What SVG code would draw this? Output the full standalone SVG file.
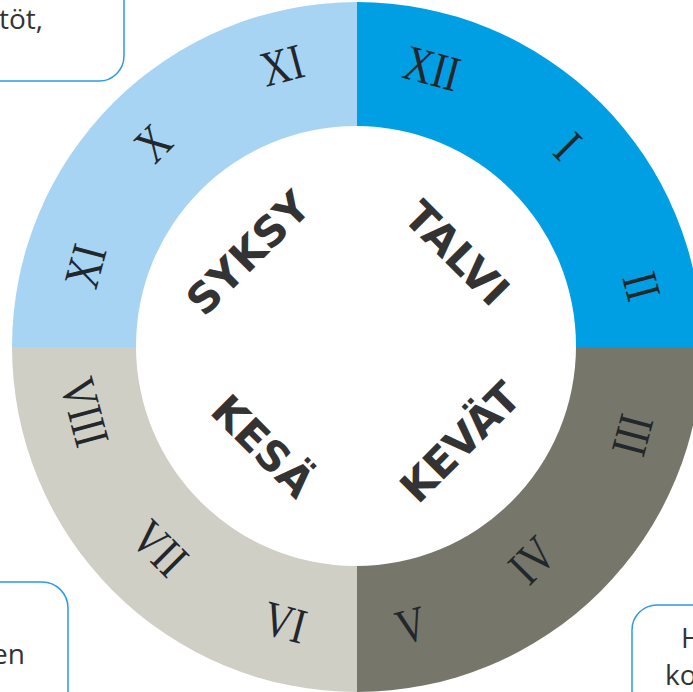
<svg xmlns="http://www.w3.org/2000/svg" width="693" height="692" viewBox="0 0 693 692">
  <style>
    .num { font-family: "Liberation Serif", "Times New Roman", serif; font-size: 50px; fill: #22272b; text-anchor: middle; }
    .season { font-family: "DejaVu Sans", Verdana, sans-serif; font-weight: bold; font-size: 42px; fill: #333333; text-anchor: middle; }
    .box { fill: #ffffff; stroke: #2b9be8; stroke-width: 1.5; }
    .boxtext { font-family: "Open Sans", "Liberation Sans", sans-serif; font-size: 28px; fill: #333333; }
  </style>
  <rect width="693" height="692" fill="#ffffff"/>
  <g id="wheel">
    <path d="M357,347 L357,2 A345,345 0 0 1 702,347 Z" fill="#009fe3"/>
    <path d="M357,347 L702,347 A345,345 0 0 1 357,692 Z" fill="#77766a"/>
    <path d="M357,347 L357,692 A345,345 0 0 1 12,347 Z" fill="#d0cfc6"/>
    <path d="M357,347 L12,347 A345,345 0 0 1 357,2 Z" fill="#a8d4f3"/>
    <circle cx="356" cy="346" r="220" fill="#ffffff"/>
  </g>
  <g id="months">
    <text class="num" transform="translate(432,68) rotate(15) scale(0.8,1)" dy="17">XII</text>
    <text class="num" transform="translate(568,146) rotate(45) scale(0.8,1)" dy="17">I</text>
    <text class="num" transform="translate(642,286) rotate(75) scale(0.8,1)" dy="17">II</text>
    <text class="num" transform="translate(632,435) rotate(-75) scale(0.8,1)" dy="17">III</text>
    <text class="num" transform="translate(532,560) rotate(-45) scale(0.8,1)" dy="17">IV</text>
    <text class="num" transform="translate(411,625) rotate(-15) scale(0.8,1)" dy="17">V</text>
    <text class="num" transform="translate(285,622) rotate(15) scale(0.8,1)" dy="17">VI</text>
    <text class="num" transform="translate(160,548) rotate(45) scale(0.8,1)" dy="17">VII</text>
    <text class="num" transform="translate(85,412) rotate(75) scale(0.8,1)" dy="17">VIII</text>
    <text class="num" transform="translate(85,266) rotate(-75) scale(0.8,1)" dy="17">XI</text>
    <text class="num" transform="translate(153,143) rotate(-45) scale(0.8,1)" dy="17">X</text>
    <text class="num" transform="translate(282,65) rotate(-15) scale(0.8,1)" dy="17">XI</text>
  </g>
  <g id="seasons">
    <text class="season" transform="translate(248,253) rotate(-45)" dy="15">SYKSY</text>
    <text class="season" transform="translate(457,253) rotate(45)" dy="15">TALVI</text>
    <text class="season" transform="translate(460,442) rotate(-45)" dy="15">KEVÄT</text>
    <text class="season" transform="translate(263,446) rotate(45)" dy="15">KESÄ</text>
  </g>
  <g id="box-top-left">
    <rect class="box" x="-40" y="-40" width="164" height="121" rx="25"/>
    <text class="boxtext" x="43" y="29" text-anchor="end">töt,</text>
  </g>
  <g id="box-bottom-left">
    <rect class="box" x="-40" y="582" width="108" height="150" rx="26"/>
    <text class="boxtext" x="25" y="664" text-anchor="end">en</text>
  </g>
  <g id="box-bottom-right">
    <rect class="box" x="632" y="605" width="120" height="120" rx="25"/>
    <text class="boxtext" x="681" y="648">H</text>
    <text class="boxtext" x="665" y="685">ko</text>
  </g>
  <g id="connectors"/>
</svg>
